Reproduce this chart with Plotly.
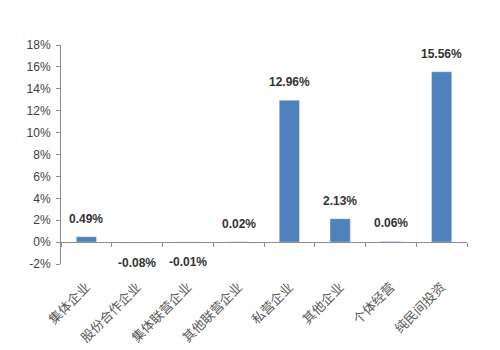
import plotly.graph_objects as go

# 各类民间投资增速（%）
categories = ["集体企业", "股份合作企业", "集体联营企业", "其他联营企业",
              "私营企业", "其他企业", "个体经营", "纯民间投资"]
growth = [0.49, -0.08, -0.01, 0.02, 12.96, 2.13, 0.06, 15.56]
y_ticks = list(range(-2, 19, 2))

bar_color = "#4F81BD"
axis_color = "#8C8C8C"

fig = go.Figure()
fig.add_trace(go.Bar(
    x=categories, y=growth, marker_color=bar_color, width=0.4,
    showlegend=False,
))

# 数据标签：正值在柱顶上方，负值在柱底下方
for cat, v in zip(categories, growth):
    fig.add_annotation(
        x=cat, y=v, text=f"<b>{v:.2f}%</b>", showarrow=False,
        yshift=18 if v >= 0 else -20,
        font=dict(family="Liberation Sans, Arial", size=12, color="#333333"),
    )

fig.update_layout(
    width=500, height=350,
    margin=dict(l=61, r=33, t=45, b=86),
    paper_bgcolor="white", plot_bgcolor="white",
    bargap=0.6,
    xaxis=dict(
        type="category", showline=False, showgrid=False, zeroline=False,
        ticks="", tickangle=-45, ticklabelstandoff=12, automargin=False,
        tickfont=dict(family="Noto Sans CJK SC", size=13, color="#5A5A5A"),
    ),
    # 0% 处的横轴线，刻度位于类别边界
    xaxis2=dict(
        type="category", overlaying="x", matches="x", anchor="free", position=0.1,
        showline=True, linecolor=axis_color, linewidth=1,
        ticks="outside", tickson="boundaries", ticklen=4, tickcolor=axis_color,
        showticklabels=False, showgrid=False, zeroline=False,
    ),
    yaxis=dict(
        range=[-2, 18], tickvals=y_ticks, ticktext=[f"{t}%" for t in y_ticks],
        showline=True, linecolor=axis_color, linewidth=1, automargin=False,
        ticks="outside", ticklen=4, tickcolor=axis_color, ticklabelstandoff=3,
        showgrid=False, zeroline=False,
        tickfont=dict(family="Liberation Sans, Arial", size=12, color="#404040"),
    ),
)

# 空轨迹让 xaxis2 显示出来
fig.add_trace(go.Bar(x=categories, y=[None] * len(categories), xaxis="x2",
                     showlegend=False, hoverinfo="skip"))

fig.write_html("out.html")
